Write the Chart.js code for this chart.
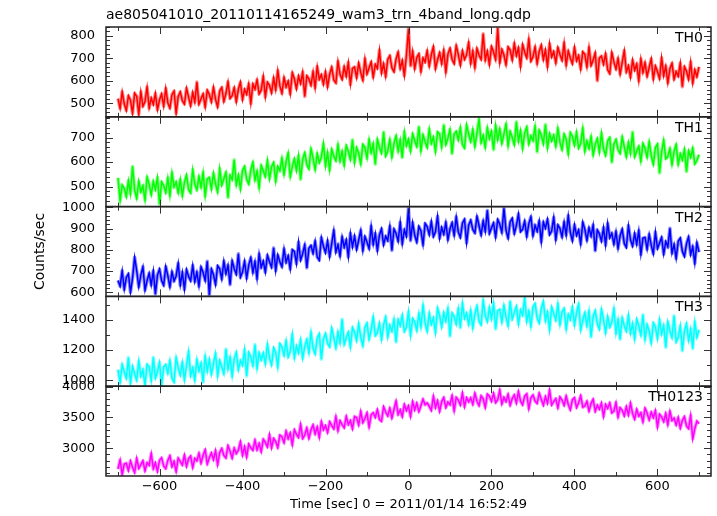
<!DOCTYPE html>
<html>
  <head>
    <title>ae805041010 wam3 trn 4band long</title>
    <style>
      html, body { margin: 0; padding: 0; background: #fff; }
    </style>
  </head>
  <body>

    <!-- Chart.js v4 -->
    <script src="https://cdn.jsdelivr.net/npm/chart.js@4.4.1/dist/chart.umd.min.js"></script>

    <canvas id="lc" width="717" height="516"></canvas>

    <script>

      // Time bins: seconds from 2011/01/14 16:52:49, one bin every 5 s
      const tStart = -700;
      const tStep = 5;

      // Count rates (counts/sec), one value per bin, 10 bins (50 s) per row
      const th0 = [
        520, 476, 551, 497, 467, 533, 513, 454, 544, 530,
        450, 551, 486, 507, 572, 478, 523, 494, 544, 470,
        515, 541, 486, 567, 502, 478, 538, 554, 454, 530,
        550, 511, 496, 567, 527, 488, 548, 504, 594, 495,
        520, 541, 482, 558, 539, 505, 571, 517, 483, 554,
        570, 507, 543, 595, 521, 533, 569, 506, 562, 594,
        515, 562, 539, 586, 498, 585, 562, 604, 541, 558,
        620, 527, 593, 580, 546, 613, 559, 646, 577, 544,
        615, 572, 598, 540, 636, 608, 564, 621, 587, 639,
        530, 622, 608, 580, 641, 568, 664, 606, 627, 584,
        640, 572, 629, 661, 603, 590, 687, 629, 606, 663,
        620, 682, 583, 655, 661, 613, 679, 636, 602, 699,
        630, 657, 684, 616, 673, 655, 737, 634, 676, 618,
        695, 712, 658, 640, 696, 728, 654, 691, 622, 714,
        832, 666, 732, 653, 704, 720, 641, 702, 683, 734,
        665, 716, 752, 653, 694, 725, 676, 737, 638, 719,
        745, 696, 676, 757, 718, 669, 734, 695, 716, 771,
        677, 733, 658, 744, 714, 695, 810, 691, 732, 672,
        753, 728, 694, 835, 680, 740, 715, 671, 751, 737,
        692, 767, 712, 747, 662, 762, 727, 702, 787, 687,
        707, 751, 676, 730, 759, 694, 738, 662, 766, 706,
        730, 679, 748, 717, 691, 770, 669, 733, 702, 676,
        750, 689, 712, 651, 729, 718, 661, 750, 668, 692,
        725, 600, 701, 710, 673, 721, 649, 632, 726, 684,
        652, 700, 629, 682, 735, 639, 667, 615, 693, 647,
        675, 599, 698, 637, 681, 620, 659, 698, 607, 666,
        640, 609, 703, 622, 666, 590, 654, 678, 607, 641,
        620, 679, 573, 663, 642, 606, 685, 589, 649, 618,
        662
      ];
      const th1 = [
        535, 441, 506, 492, 458, 524, 469, 582, 486, 451,
        522, 478, 503, 444, 539, 510, 466, 521, 487, 537,
        428, 519, 504, 475, 536, 462, 557, 498, 519, 474,
        530, 461, 516, 547, 488, 474, 569, 510, 486, 541,
        497, 558, 460, 531, 537, 489, 555, 511, 477, 574,
        505, 532, 558, 455, 546, 528, 609, 506, 547, 489,
        565, 582, 529, 510, 567, 599, 526, 563, 494, 586,
        563, 540, 607, 531, 581, 598, 520, 582, 564, 616,
        548, 600, 637, 539, 581, 613, 565, 627, 529, 611,
        638, 590, 572, 654, 616, 568, 635, 597, 619, 676,
        583, 639, 566, 652, 624, 605, 671, 603, 644, 586,
        667, 643, 610, 691, 597, 659, 635, 591, 672, 659,
        615, 692, 638, 675, 591, 693, 659, 636, 722, 624,
        645, 692, 619, 675, 707, 644, 691, 618, 724, 666,
        693, 644, 715, 687, 663, 744, 645, 711, 683, 659,
        735, 676, 702, 642, 723, 714, 660, 751, 671, 697,
        733, 634, 714, 725, 690, 741, 671, 657, 752, 713,
        683, 733, 663, 719, 774, 679, 709, 659, 740, 695,
        725, 650, 750, 690, 735, 675, 715, 755, 665, 725,
        700, 670, 764, 684, 729, 654, 718, 743, 673, 707,
        687, 746, 641, 730, 709, 674, 753, 657, 716, 686,
        710, 664, 738, 681, 650, 714, 693, 632, 720, 704,
        668, 722, 656, 675, 739, 643, 686, 655, 704, 628,
        672, 696, 640, 719, 653, 627, 686, 700, 599, 673,
        692, 651, 635, 703, 662, 621, 680, 634, 722, 621,
        645, 664, 603, 676, 655, 619, 683, 627, 590, 659,
        673, 555, 640, 689, 613, 622, 655, 589, 643, 671,
        590, 634, 608, 652, 561, 645, 619, 657, 592, 606,
        630
      ];
      const th2 = [
        656, 629, 702, 613, 670, 687, 600, 667, 765, 701,
        625, 681, 720, 610, 655, 690, 634, 702, 592, 681,
        709, 655, 633, 722, 679, 625, 697, 653, 677, 737,
        633, 695, 613, 707, 675, 654, 727, 650, 695, 629,
        719, 693, 655, 746, 588, 710, 683, 636, 725, 711,
        662, 747, 687, 728, 636, 748, 711, 685, 781, 671,
        695, 747, 666, 728, 763, 693, 745, 664, 781, 717,
        747, 694, 774, 744, 718, 809, 701, 776, 744, 720,
        805, 741, 772, 709, 800, 792, 734, 837, 751, 782,
        824, 715, 807, 820, 783, 841, 766, 751, 858, 817,
        786, 843, 767, 830, 892, 789, 824, 770, 861, 812,
        847, 766, 878, 813, 865, 801, 846, 892, 795, 862,
        836, 805, 912, 825, 877, 796, 870, 899, 823, 864,
        843, 912, 797, 898, 877, 840, 930, 827, 894, 863,
        995, 843, 928, 868, 836, 910, 889, 823, 924, 909,
        871, 933, 862, 885, 958, 854, 905, 873, 929, 847,
        898, 927, 867, 955, 884, 858, 925, 943, 832, 916,
        939, 895, 879, 957, 913, 869, 936, 886, 985, 876,
        903, 926, 859, 942, 920, 881, 995, 892, 854, 931,
        948, 876, 914, 969, 885, 896, 935, 862, 923, 955,
        866, 915, 887, 936, 836, 930, 901, 944, 871, 888,
        953, 847, 917, 900, 860, 931, 868, 961, 882, 842,
        918, 867, 893, 826, 930, 896, 844, 904, 864, 917,
        795, 893, 875, 840, 905, 821, 925, 856, 878, 826,
        886, 806, 866, 897, 830, 811, 914, 847, 817, 877,
        825, 891, 778, 855, 858, 802, 873, 821, 781, 884,
        806, 832, 858, 779, 839, 814, 901, 784, 826, 759,
        840, 855, 793, 769, 829, 861, 777, 815, 736, 834,
        789
      ];
      const th3 = [
        1071, 986, 1106, 1056, 1014, 1151, 981, 1093, 1042, 1000,
        1129, 1027, 1071, 969, 1106, 1090, 997, 1152, 1015, 1059,
        1120, 968, 1088, 1105, 1046, 1132, 1014, 989, 1151, 1084,
        1034, 1120, 1002, 1098, 1192, 1031, 1084, 999, 1138, 1062,
        1114, 988, 1161, 1060, 1139, 1039, 1109, 1179, 1028, 1132,
        1091, 1043, 1207, 1074, 1153, 1028, 1141, 1186, 1069, 1132,
        1099, 1205, 1029, 1185, 1154, 1097, 1237, 1078, 1183, 1135,
        1181, 1108, 1239, 1149, 1101, 1216, 1185, 1086, 1243, 1221,
        1164, 1262, 1154, 1192, 1306, 1148, 1228, 1181, 1269, 1145,
        1225, 1271, 1181, 1320, 1212, 1174, 1279, 1308, 1140, 1272,
        1309, 1244, 1221, 1345, 1280, 1214, 1320, 1246, 1403, 1236,
        1281, 1319, 1219, 1349, 1318, 1261, 1375, 1284, 1227, 1349,
        1378, 1270, 1332, 1420, 1295, 1315, 1377, 1269, 1366, 1419,
        1285, 1365, 1324, 1404, 1253, 1401, 1360, 1431, 1322, 1351,
        1455, 1295, 1409, 1386, 1328, 1442, 1350, 1497, 1379, 1323,
        1444, 1369, 1413, 1313, 1477, 1428, 1352, 1448, 1390, 1476,
        1291, 1445, 1421, 1370, 1474, 1347, 1510, 1408, 1444, 1368,
        1463, 1344, 1439, 1492, 1391, 1366, 1529, 1428, 1387, 1482,
        1406, 1510, 1339, 1460, 1468, 1384, 1496, 1419, 1360, 1522,
        1404, 1447, 1489, 1371, 1465, 1430, 1545, 1388, 1457, 1355,
        1483, 1507, 1412, 1378, 1471, 1521, 1392, 1451, 1332, 1484,
        1441, 1396, 1506, 1367, 1451, 1475, 1337, 1437, 1401, 1485,
        1364, 1447, 1504, 1331, 1397, 1447, 1358, 1459, 1286, 1420,
        1460, 1373, 1337, 1470, 1400, 1313, 1422, 1351, 1383, 1474,
        1310, 1402, 1271, 1414, 1360, 1324, 1432, 1310, 1376, 1271,
        1405, 1360, 1298, 1433, 1269, 1369, 1324, 1246, 1380, 1353,
        1274, 1401, 1305, 1364, 1218, 1387, 1326, 1282, 1426, 1253,
        1286, 1362, 1195, 1325, 1375, 1263, 1339, 1210, 1387, 1284,
        1334
      ];
      const th0123 = [
        2664, 2810, 2572, 2742, 2756, 2638, 2796, 2690, 2606, 2838,
        2672, 2735, 2797, 2632, 2766, 2721, 2915, 2666, 2764, 2623,
        2805, 2844, 2714, 2669, 2803, 2878, 2700, 2787, 2621, 2840,
        2782, 2728, 2890, 2704, 2830, 2872, 2686, 2836, 2794, 2920,
        2758, 2885, 2976, 2743, 2846, 2925, 2812, 2963, 2730, 2929,
        2996, 2883, 2842, 3041, 2952, 2839, 3002, 2913, 2968, 3107,
        2886, 3027, 2856, 3069, 3006, 2967, 3132, 2973, 3078, 2943,
        3144, 3094, 3020, 3222, 3004, 3158, 3108, 3010, 3212, 3186,
        3088, 3277, 3154, 3247, 3052, 3301, 3226, 3175, 3388, 3157,
        3214, 3330, 3158, 3298, 3378, 3230, 3346, 3174, 3434, 3298,
        3366, 3254, 3430, 3366, 3314, 3514, 3282, 3446, 3382, 3330,
        3518, 3382, 3450, 3314, 3514, 3498, 3374, 3598, 3414, 3482,
        3574, 3342, 3542, 3574, 3498, 3626, 3466, 3438, 3674, 3586,
        3522, 3649, 3488, 3627, 3766, 3545, 3624, 3511, 3710, 3609,
        3688, 3513, 3758, 3619, 3732, 3593, 3694, 3795, 3704, 3733,
        3678, 3611, 3844, 3657, 3770, 3595, 3756, 3821, 3658, 3747,
        3704, 3852, 3604, 3824, 3780, 3700, 3896, 3672, 3820, 3752,
        3816, 3710, 3891, 3761, 3690, 3848, 3801, 3659, 3876, 3842,
        3759, 3892, 3737, 3786, 3943, 3716, 3825, 3754, 3875, 3696,
        3805, 3864, 3730, 3921, 3763, 3702, 3844, 3879, 3637, 3816,
        3862, 3764, 3726, 3892, 3794, 3696, 3838, 3728, 3942, 3700,
        3758, 3803, 3655, 3832, 3780, 3693, 3845, 3710, 3622, 3787,
        3819, 3658, 3736, 3851, 3665, 3684, 3762, 3601, 3727, 3794,
        3596, 3698, 3632, 3734, 3512, 3710, 3644, 3734, 3572, 3602,
        3740, 3506, 3656, 3614, 3524, 3674, 3536, 3734, 3560, 3470,
        3632, 3519, 3574, 3425, 3648, 3571, 3458, 3585, 3496, 3611,
        3342, 3551, 3508, 3429, 3566, 3379, 3600, 3449, 3490, 3375,
        3500, 3324, 3448, 3512, 3360, 3316, 3536, 3150, 3316, 3440,
        3396
      ];

      // Panel names and axis labels
      const panelNames = ["TH0", "TH1", "TH2", "TH3", "TH0123"];
      const xTicks = [-600, -400, -200, 0, 200, 400, 600];
      const yTicks = [
        [500, 600, 700, 800],
        [500, 600, 700],
        [600, 700, 800, 900, 1000],
        [1000, 1200, 1400],
        [3000, 3500, 4000]
      ];

      // Axis ranges and minor tick steps of every panel
      const xRange = [-729, 729];
      const xTickMarks = [-700, -600, -500, -400, -300, -200, -100, 0, 100, 200, 300, 400, 500, 600, 700];
      const yMin = [439, 418, 581, 962, 2550];
      const yMax = [840, 784.5, 1003, 1554, 4005];
      const yMinor = [20, 20, 20, 100, 100];

      const lineColors = ["#ff0000", "#00ff00", "#0000ff", "#00ffff", "#ff00ff"];
      const barColors = ["rgba(255,0,0,0.45)", "rgba(0,255,0,0.45)", "rgba(0,0,255,0.45)", "rgba(0,255,255,0.45)", "rgba(255,0,255,0.45)"];

      const FONT = '"DejaVu Sans", sans-serif';
      const yIds = ["y0", "y1", "y2", "y3", "y4"];
      const series = [th0, th1, th2, th3, th0123];

      // Minus sign like the original plot
      function fmt(v) {
        return v < 0 ? "\u2212" + Math.abs(v) : String(v);
      }

      // Build datasets: a wide pale line (error-bar look) under a full colour line with sharp peaks
      const datasets = [];
      series.forEach((vals, k) => {
        const pts = vals.map((v, i) => ({ x: tStart + i * tStep, y: v }));
        datasets.push({
          label: panelNames[k], data: pts, yAxisID: yIds[k],
          borderColor: lineColors[k], borderWidth: 1.5, borderJoinStyle: "miter",
          pointRadius: 0, tension: 0, order: 1
        });
        datasets.push({
          label: panelNames[k] + " err", data: pts.slice(), yAxisID: yIds[k],
          borderColor: barColors[k], borderWidth: 3.5, borderJoinStyle: "round",
          pointRadius: 0, tension: 0, order: 2
        });
      });

      // Scales: shared x at the bottom, five stacked y axes on the left
      const scales = {
        x: {
          type: "linear", min: xRange[0], max: xRange[1],
          afterBuildTicks: (s) => { s.ticks = xTicks.map((v) => ({ value: v })); },
          afterFit: (s) => { s.height = 40; },
          grid: { display: false, drawTicks: false },
          border: { display: false },
          ticks: { autoSkip: false, maxRotation: 0, padding: 3, color: "#000", font: { family: FONT, size: 13 }, callback: (v) => fmt(v) },
          title: { display: true, text: "Time [sec] 0 = 2011/01/14 16:52:49", color: "#000", font: { family: FONT, size: 13, lineHeight: 1.2 }, padding: { top: 0, bottom: 3.8 } }
        }
      };
      // added bottom panel first: the left stack is laid out from the last added box downwards
      for (let k = 4; k >= 0; k--) {
        scales[yIds[k]] = {
          type: "linear", position: "left", stack: "panels", stackWeight: 1,
          min: yMin[k], max: yMax[k],
          afterBuildTicks: (s) => { s.ticks = yTicks[k].map((v) => ({ value: v })); },
          afterFit: (s) => { s.width = 106; },
          grid: { display: false, drawTicks: false },
          border: { display: false },
          ticks: { autoSkip: false, padding: 11, color: "#000", font: { family: FONT, size: 13 }, callback: (v) => String(v) },
          title: k === 2
            ? { display: true, text: "Counts/sec", color: "#000", font: { family: FONT, size: 14, lineHeight: 1.2 }, padding: { top: 32.4, bottom: 0 } }
            : { display: false }
        };
      }

      // Frames, inward ticks and the panel names, QDP style
      const qdpFrame = {
        id: "qdpFrame",
        afterDatasetsDraw(chart) {
          const { ctx, chartArea: a, scales: sc } = chart;
          const sx = sc.x;
          ctx.save();
          yIds.forEach((id, k) => {
            const s = sc[id];
            const top = s.top, bot = s.bottom;
            ctx.strokeStyle = "#333";
            ctx.lineWidth = 1;
            ctx.beginPath();
            xTickMarks.forEach((v) => {
              const px = Math.round(sx.getPixelForValue(v)) + 0.5;
              const len = v % 200 === 0 ? 7 : 4;
              ctx.moveTo(px, top); ctx.lineTo(px, top + len);
              ctx.moveTo(px, bot); ctx.lineTo(px, bot - len);
            });
            const step = yMinor[k];
            for (let v = Math.ceil(s.min / step) * step; v <= s.max; v += step) {
              const py = Math.round(s.getPixelForValue(v)) + 0.5;
              const len = yTicks[k].includes(v) ? 7 : 4;
              ctx.moveTo(a.left, py); ctx.lineTo(a.left + len, py);
              ctx.moveTo(a.right, py); ctx.lineTo(a.right - len, py);
            }
            ctx.stroke();

            ctx.lineWidth = 1.5;
            ctx.strokeStyle = "#222";
            ctx.strokeRect(a.left, top, a.right - a.left, bot - top);

            ctx.fillStyle = "#000";
            ctx.font = "14px " + FONT;
            ctx.textAlign = "right";
            ctx.textBaseline = "alphabetic";
            ctx.fillText(panelNames[k], a.right - 8, top + 15);
          });
          ctx.restore();
        }
      };

      const chart = new Chart(document.getElementById("lc"), {
        type: "line",
        data: { datasets },
        options: {
          responsive: false,
          animation: false,
          devicePixelRatio: 1,
          layout: { padding: { left: 0, right: 6, top: 0, bottom: 0 } },
          plugins: {
            legend: { display: false },
            tooltip: { enabled: false },
            title: {
              display: true, align: "start", fullSize: false, color: "#000",
              text: "ae805041010_20110114165249_wam3_trn_4band_long.qdp",
              font: { family: FONT, size: 14, weight: "normal", lineHeight: 1.2 },
              padding: { top: 7.4, bottom: 2.8 }
            }
          },
          scales
        },
        plugins: [qdpFrame]
      });

    </script>
  </body>
</html>
